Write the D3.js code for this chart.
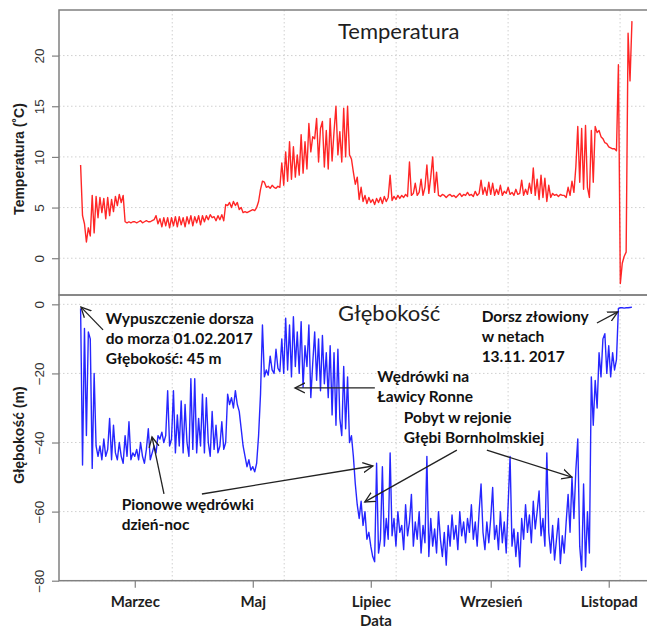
<!DOCTYPE html>
<html>
<head>
<meta charset="utf-8">
<script src="https://cdn.jsdelivr.net/npm/d3@7"></script>
<style>
  body { margin: 0; background: #fff; }
  svg text { font-family: "Liberation Sans", Arial, sans-serif; fill: #1e1e1e; }
  .note { font-family: Lato, "Open Sans", sans-serif; font-weight: bold; font-size: 15.5px; fill: #111; }
  .panel-title { font-family: Lato, "Open Sans", sans-serif; font-size: 22px; }
  .x-lab { font-family: Lato, "Open Sans", sans-serif; font-weight: bold; font-size: 15px; }
</style>
</head>
<body>
<div id="chart"></div>
<script>
const WIDTH = 647;
const HEIGHT = 628;
const PLOT_LEFT = 59;
const PLOT_RIGHT = 655;
const TOP_PANEL = { top: 10, bottom: 295 };
const BOT_PANEL = { top: 295, bottom: 580.7 };

// daily readings, month by month (index 0 = first day of the month), 2017
const months = [1, 2, 3, 4, 5, 6, 7, 8, 9, 10]; // Feb .. Nov

const tempFeb = [9.2, 4.2, 3.4, 1.6, 3.0, 2.2, 6.2, 2.5, 6.1, 4.0, 6.0, 4.5, 5.9, 3.9, 6.0, 4.2, 5.8, 4.6, 6.1, 5.2, 6.3, 5.5, 6.2, 3.6, 3.5, 3.6, 3.5, 3.6];
const tempMar = [3.6, 3.5, 3.6, 3.7, 3.5, 3.6, 3.7, 3.6, 3.6, 3.7, 3.8, 4.2, 3.4, 3.9, 3.1, 4.0, 3.2, 4.0, 3.0, 4.0, 3.2, 4.1, 3.1, 4.1, 3.3, 4.0, 3.1, 4.1, 3.4, 4.2, 3.2];
const tempApr = [4.1, 3.5, 4.2, 3.3, 4.2, 3.6, 4.2, 3.8, 4.3, 4.0, 4.1, 3.7, 4.2, 3.8, 4.3, 3.7, 5.3, 5.2, 5.5, 5.0, 5.6, 5.2, 5.5, 4.8, 5.0, 4.5, 4.6, 4.5, 4.6, 4.7];
const tempMay = [4.8, 4.7, 5.0, 5.6, 6.8, 7.6, 7.5, 7.0, 7.1, 6.9, 7.2, 7.0, 6.9, 7.1, 7.0, 9.4, 7.2, 10.5, 7.6, 11.5, 7.8, 11.0, 8.0, 10.2, 8.2, 12.2, 8.4, 11.5, 8.8, 13.3, 10.5];
const tempJun = [12.0, 11.8, 13.8, 9.5, 12.8, 13.5, 9.0, 12.6, 8.8, 13.8, 9.6, 12.5, 15.0, 10.2, 12.5, 9.5, 14.8, 10.0, 15.0, 10.2, 9.8, 8.5, 7.3, 8.0, 5.8, 7.0, 5.6, 6.2, 5.4, 6.0];
const tempJul = [5.5, 5.8, 5.3, 5.9, 5.5, 6.0, 5.4, 6.1, 5.6, 6.0, 8.2, 5.7, 6.1, 5.8, 6.2, 5.9, 6.2, 6.0, 6.3, 6.1, 9.5, 6.2, 6.4, 7.4, 6.2, 6.5, 7.8, 6.2, 7.0, 9.2, 6.4];
const tempAug = [8.0, 10.0, 6.5, 8.5, 6.2, 6.1, 6.3, 6.2, 6.0, 6.2, 6.3, 6.1, 6.2, 6.0, 6.2, 6.4, 6.1, 6.3, 6.2, 6.5, 6.2, 6.3, 6.1, 6.6, 6.2, 6.4, 7.7, 6.3, 7.0, 6.2, 7.5];
const tempSep = [6.3, 7.4, 6.2, 6.8, 6.3, 7.2, 6.2, 6.6, 6.4, 7.0, 6.3, 6.5, 6.2, 6.8, 6.3, 6.4, 7.7, 6.2, 6.8, 6.3, 7.4, 6.4, 8.9, 6.2, 7.8, 5.8, 8.2, 6.0, 7.9, 5.6];
const tempOct = [7.2, 6.0, 6.4, 6.2, 6.3, 6.1, 6.3, 6.2, 6.2, 6.0, 7.0, 6.2, 7.6, 6.5, 9.0, 13.0, 7.5, 12.8, 6.8, 13.1, 7.0, 6.0, 12.6, 7.5, 13.0, 12.4, 12.6, 12.0, 11.8, 11.4, 11.3];
const tempNov = [11.0, 10.9, 10.8, 10.8, 10.6, 19.1, -2.5, -0.5, 0.2, 0.6, 22.2, 17.5, 23.4];

const depthFeb = [-1.2, -46.5, -7, -38, -8, -10, -47.5, -20, -41, -44, -41, -45, -39, -44, -42, -33, -45, -35, -43, -45, -40, -44, -46, -38, -44, -34, -45, -43];
const depthMar = [-44, -42, -45, -40, -44, -46, -42, -36, -45, -43, -41, -43, -38, -39, -37, -40, -38, -25, -41, -39, -25, -43, -32, -41, -28, -43, -29, -40, -44, -21.5, -42];
const depthApr = [-21.5, -43, -33, -41, -26, -43, -27, -40, -44, -31, -42, -35, -43, -41, -34, -42, -40, -26, -29, -27, -30, -25, -29, -31, -36, -41, -44, -47, -45, -48];
const depthMay = [-47, -48.5, -46, -38, -26, -6, -21, -19, -20.5, -15, -19, -20, -13, -18.5, -19.5, -10, -20, -4, -19, -6, -21, -3.6, -18, -8, -20, -5, -24, -12, -18, -6, -27];
const depthJun = [-17, -8, -22, -10, -25, -9, -23, -14, -27, -12, -32, -14, -35, -13, -33, -38, -18, -36, -21, -40, -38, -44, -52, -58, -62, -57, -64, -60, -68, -66];
const depthJul = [-70, -73, -74.5, -46, -72, -68, -47, -70, -62, -68, -43, -67, -62, -70, -60, -66, -64, -71, -58, -67, -63, -55, -70, -63, -68, -60, -72, -64, -69, -44, -73];
const depthAug = [-62, -70, -65, -72, -60, -68, -73, -66, -75.5, -64, -70, -61, -68, -64, -71, -60, -67, -63, -69, -62, -66, -58, -68, -63, -70, -60, -52, -66, -71, -63, -69];
const depthSep = [-62, -53, -68, -64, -71, -60, -69, -63, -72, -58, -44, -70, -65, -73, -66, -76, -62, -68, -58, -66, -61, -69, -57, -65, -60, -54, -67, -62, -70, -43];
const depthOct = [-66, -72, -64, -74, -68, -62, -75, -67, -72, -63, -55, -66, -50, -62, -48, -39, -70, -77, -52, -76, -60, -72, -21, -35, -22, -30, -14, -21, -10, -8.5, -20];
const depthNov = [-12, -21, -14, -19, -16, -1.2, -1.0, -1.0, -1.1, -1.0, -1.0, -0.9, -0.8];

const tempTicks = [0, 5, 10, 15, 20];
const depthTicks = [0, -20, -40, -60, -80];
const xTickDates = [Date.UTC(2017, 2, 1), Date.UTC(2017, 4, 1), Date.UTC(2017, 6, 1), Date.UTC(2017, 8, 1), Date.UTC(2017, 10, 1)];
const xTickLabels = ["Marzec", "Maj", "Lipiec", "Wrzesień", "Listopad"];
const gridSeconds = [1.49e9, 1.495e9, 1.5e9, 1.505e9, 1.51e9];

// annotations: days since release (01.02) and depth in m
const noteTexts = [
    ["Wypuszczenie dorsza", "do morza 01.02.2017", "Głębokość: 45 m"],
    ["Pionowe wędrówki", "dzień-noc"],
    ["Wędrówki na", "Ławicy Ronne"],
    ["Pobyt w rejonie", "Głębi Bornholmskiej"],
    ["Dorsz złowiony", "w netach", "13.11. 2017"]
];
const noteAnchors = [[12.97, -5.56], [21.24, -59.4], [153.4, -22.5], [167.1, -34.4], [207.3, -5.2]];
const arrowFrom = [[11.6, -7.4], [43.1, -54.9], [62.7, -54.9], [152.1, -24.2], [194.5, -42.2], [210, -42.2], [266.9, -5.4]];
const arrowTo = [[0.2, -0.8], [36.9, -38.4], [151.1, -46.8], [110.8, -24.2], [146.9, -57.2], [253.9, -50], [277.7, -2.2]];

const RELEASE = Date.UTC(2017, 1, 1);
const dayToDate = (d) => new Date(RELEASE + d * 864e5);

function toSeries(byMonth) {
    return byMonth.flatMap((vals, m) =>
        vals.map((v, i) => ({ date: new Date(Date.UTC(2017, months[m], i + 1)), value: v }))
    );
}

const tempData = toSeries([tempFeb, tempMar, tempApr, tempMay, tempJun, tempJul, tempAug, tempSep, tempOct, tempNov]);
const depthData = toSeries([depthFeb, depthMar, depthApr, depthMay, depthJun, depthJul, depthAug, depthSep, depthOct, depthNov]);

const svg = d3.select("#chart").append("svg")
    .attr("width", WIDTH)
    .attr("height", HEIGHT);

svg.append("rect").attr("width", WIDTH).attr("height", HEIGHT).attr("fill", "#fff");

const defs = svg.append("defs");
defs.append("marker")
    .attr("id", "arrow")
    .attr("markerUnits", "userSpaceOnUse")
    .attr("markerWidth", 12).attr("markerHeight", 12)
    .attr("refX", 10).attr("refY", 6)
    .attr("orient", "auto")
    .append("path")
    .attr("d", "M0,1 L10,6 L0,11")
    .attr("fill", "none")
    .attr("stroke", "#222")
    .attr("stroke-width", 1.3);

const x = d3.scaleUtc()
    .domain([new Date(Date.UTC(2017, 0, 20, 20)), new Date(Date.UTC(2017, 10, 24, 22))])
    .range([PLOT_LEFT, PLOT_RIGHT]);

const yTemp = d3.scaleLinear().domain([-3.63, 24.5]).range([TOP_PANEL.bottom, TOP_PANEL.top]);
const yDepth = d3.scaleLinear().domain([-80, 2.7]).range([BOT_PANEL.bottom, BOT_PANEL.top]);

function drawPanel(panel, y, ticks, data, color, id) {
    defs.append("clipPath").attr("id", id)
        .append("rect")
        .attr("x", PLOT_LEFT).attr("y", panel.top)
        .attr("width", PLOT_RIGHT - PLOT_LEFT).attr("height", panel.bottom - panel.top);

    const g = svg.append("g");

    // dotted grid
    g.selectAll("line.hgrid")
        .data(ticks)
        .join("line")
        .attr("class", "hgrid")
        .attr("x1", PLOT_LEFT).attr("x2", PLOT_RIGHT)
        .attr("y1", (d) => y(d)).attr("y2", (d) => y(d))
        .attr("stroke", "#d0d0d0")
        .attr("stroke-dasharray", "1.5,2.5");

    g.selectAll("line.vgrid")
        .data(gridSeconds)
        .join("line")
        .attr("class", "vgrid")
        .attr("x1", (d) => x(new Date(d * 1000))).attr("x2", (d) => x(new Date(d * 1000)))
        .attr("y1", panel.top).attr("y2", panel.bottom)
        .attr("stroke", "#d0d0d0")
        .attr("stroke-dasharray", "1.5,2.5");

    const line = d3.line()
        .x((d) => x(d.date))
        .y((d) => y(d.value));

    g.append("path")
        .datum(data)
        .attr("clip-path", `url(#${id})`)
        .attr("d", line)
        .attr("fill", "none")
        .attr("stroke", color)
        .attr("stroke-width", 1.4)
        .attr("stroke-opacity", 0.85)
        .attr("stroke-linejoin", "round");

    // box
    g.append("rect")
        .attr("x", PLOT_LEFT).attr("y", panel.top)
        .attr("width", PLOT_RIGHT - PLOT_LEFT).attr("height", panel.bottom - panel.top)
        .attr("fill", "none")
        .attr("stroke", "#808080")
        .attr("stroke-width", 1.5);

    // y axis, labels parallel to the axis like R does
    const ax = g.append("g")
        .attr("transform", `translate(${PLOT_LEFT},0)`)
        .call(d3.axisLeft(y).tickValues(ticks).tickSize(7).tickFormat(d3.format("d")));
    ax.select(".domain").remove();
    ax.selectAll(".tick line").attr("stroke", "#808080").attr("stroke-width", 1.2);
    ax.selectAll(".tick text")
        .attr("transform", "rotate(-90)")
        .attr("x", 0).attr("y", -15.5).attr("dy", 0)
        .attr("text-anchor", "middle")
        .style("font-size", "13.5px")
        .style("fill", "#333");
    return g;
}

drawPanel(TOP_PANEL, yTemp, tempTicks, tempData, "#ff0000", "clip-temp");
drawPanel(BOT_PANEL, yDepth, depthTicks, depthData, "#0000ff", "clip-depth");

// x axis at the bottom
const xAxis = svg.append("g")
    .attr("transform", `translate(0,${BOT_PANEL.bottom})`)
    .call(d3.axisBottom(x)
        .tickValues(xTickDates.map((d) => new Date(d)))
        .tickSize(7)
        .tickFormat((d, i) => xTickLabels[i]));
xAxis.select(".domain").remove();
xAxis.selectAll(".tick line").attr("stroke", "#808080").attr("stroke-width", 1.2);
xAxis.selectAll(".tick text")
    .attr("class", "x-lab")
    .attr("y", 26.3).attr("dy", 0)
    .style("fill", "#1e1e1e");

svg.append("text")
    .attr("class", "x-lab")
    .attr("x", 376).attr("y", 626)
    .attr("text-anchor", "middle")
    .text("Data");

// axis titles
svg.append("text")
    .attr("transform", "translate(23.5,159) rotate(-90)")
    .attr("text-anchor", "middle")
    .style("font-weight", "bold").style("font-size", "14px")
    .text("Temperatura (˚C)");

svg.append("text")
    .attr("transform", "translate(24,435) rotate(-90)")
    .attr("text-anchor", "middle")
    .style("font-weight", "bold").style("font-size", "14px")
    .text("Głębokość (m)");

// panel titles
svg.append("text")
    .attr("class", "panel-title")
    .attr("x", 338).attr("y", TOP_PANEL.top + 29.3)
    .text("Temperatura");

svg.append("text")
    .attr("class", "panel-title")
    .attr("x", 338).attr("y", BOT_PANEL.top + 26)
    .text("Głębokość");

// annotations on the depth panel
const notes = svg.append("g");
noteTexts.forEach((lines, i) => {
    const [day, depth] = noteAnchors[i];
    notes.append("text")
        .attr("class", "note")
        .attr("x", x(dayToDate(day)))
        .attr("y", yDepth(depth))
        .selectAll("tspan")
        .data(lines)
        .join("tspan")
        .attr("x", x(dayToDate(day)))
        .attr("dy", (d, j) => (j === 0 ? 0 : 20))
        .text((d) => d);
});

notes.selectAll("line.arrow")
    .data(arrowFrom)
    .join("line")
    .attr("class", "arrow")
    .attr("x1", (d) => x(dayToDate(d[0])))
    .attr("y1", (d) => yDepth(d[1]))
    .attr("x2", (d, i) => x(dayToDate(arrowTo[i][0])))
    .attr("y2", (d, i) => yDepth(arrowTo[i][1]))
    .attr("stroke", "#222")
    .attr("stroke-width", 1.3)
    .attr("marker-end", "url(#arrow)");
</script>
</body>
</html>
